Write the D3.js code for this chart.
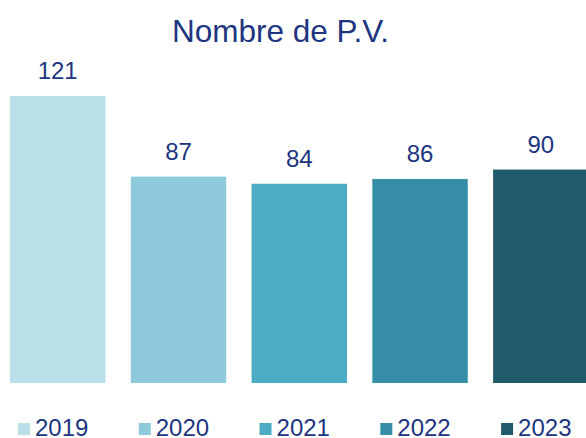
<!DOCTYPE html>
<html>
<head>
<meta charset="utf-8">
<script src="https://cdn.jsdelivr.net/npm/d3@7"></script>
<style>
  html, body { margin: 0; padding: 0; background: #ffffff; }
  svg { display: block; font-family: "Liberation Sans", Arial, sans-serif; }
</style>
</head>
<body>
<svg id="chart" width="586" height="438"></svg>
<script>
const title = "Nombre de P.V.";
const categories = ["2019", "2020", "2021", "2022", "2023"];
const values = [121, 87, 84, 86, 90];
const colors = ["#b9e0e8", "#8ecadb", "#4badc4", "#368ea6", "#215a6a"];
const textColor = "#203580";

const svg = d3.select("#chart");

const x = d3.scaleBand()
  .domain(categories)
  .range([10, 588.5])
  .paddingInner(0.21)
  .paddingOuter(0);

const y = d3.scaleLinear()
  .domain([0, 121])
  .range([383, 96]);

const color = d3.scaleOrdinal().domain(categories).range(colors);

svg.append("text")
  .attr("x", 280.5)
  .attr("y", 42)
  .attr("text-anchor", "middle")
  .attr("font-size", 31.5)
  .attr("fill", textColor)
  .text(title);

const data = categories.map((c, i) => ({ cat: c, val: values[i] }));

svg.selectAll("rect.bar")
  .data(data)
  .join("rect")
  .attr("class", "bar")
  .attr("x", d => x(d.cat))
  .attr("y", d => y(d.val))
  .attr("width", x.bandwidth())
  .attr("height", d => y(0) - y(d.val))
  .attr("fill", d => color(d.cat));

svg.selectAll("text.val")
  .data(data)
  .join("text")
  .attr("class", "val")
  .attr("x", d => x(d.cat) + x.bandwidth() / 2)
  .attr("y", d => y(d.val) - 17)
  .attr("text-anchor", "middle")
  .attr("font-size", 24)
  .attr("fill", textColor)
  .text(d => d.val);

const legend = svg.append("g");
const items = legend.selectAll("g.item")
  .data(categories)
  .join("g")
  .attr("class", "item")
  .attr("transform", d => `translate(${x(d) + 8},0)`);
items.append("rect")
  .attr("x", 0)
  .attr("y", 423)
  .attr("width", 12)
  .attr("height", 12)
  .attr("fill", d => color(d));
items.append("text")
  .attr("x", 17)
  .attr("y", 436)
  .attr("font-size", 24)
  .attr("fill", textColor)
  .text(d => d);
</script>
</body>
</html>
